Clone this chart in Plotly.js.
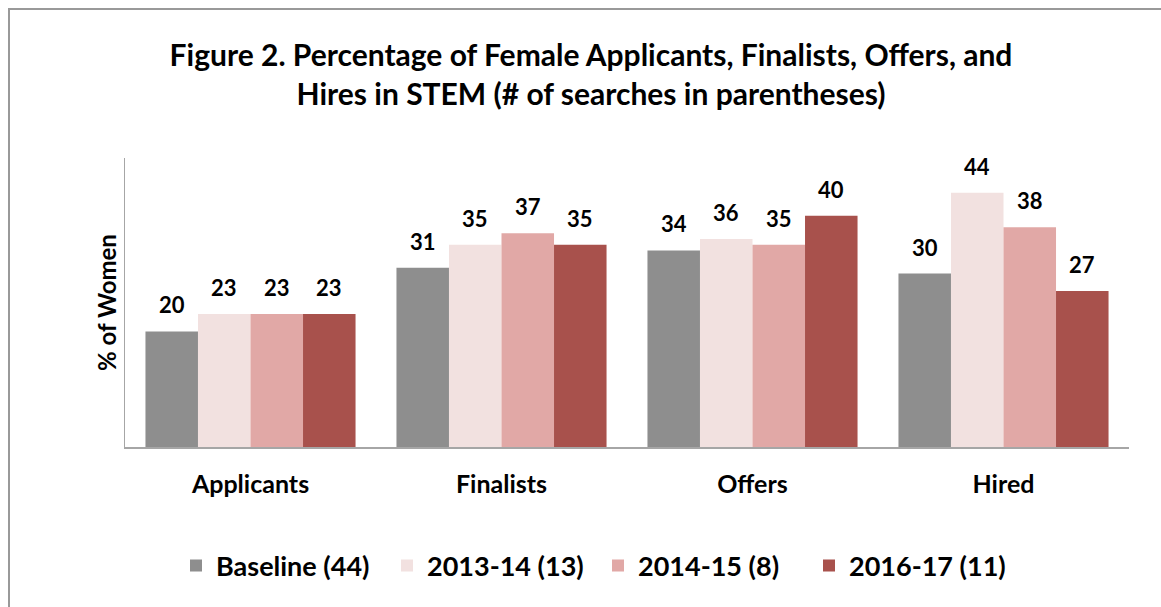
<!DOCTYPE html>
<html><head><meta charset="utf-8">
<script src="https://cdn.plot.ly/plotly-3.0.1.min.js"></script>
<style>html,body{margin:0;padding:0;background:#fff;}#chart{width:1161px;height:607px;}</style>
</head><body><div id="chart"></div>
<script>
const categories = ["Applicants", "Finalists", "Offers", "Hired"];
const seriesNames = ["Baseline (44)", "2013-14 (13)", "2014-15 (8)", "2016-17 (11)"];
const baseline = [20, 31, 34, 30];
const y2013 = [23, 35, 36, 44];
const y2014 = [23, 37, 35, 38];
const y2016 = [23, 35, 40, 27];
const colors = ["#8e8e8e", "#f2e1e0", "#e1a8a6", "#a8514c"];
const seriesValues = [baseline, y2013, y2014, y2016];

const W = 1161, H = 607;
const margin = {l: 125, r: 32, t: 158, b: 160};
const plotW = W - margin.l - margin.r;
const plotH = H - margin.t - margin.b;
const bargap = 0.163;
const FONT = "Lato, 'Open Sans', sans-serif";

const traces = seriesValues.map((vals, i) => ({
  type: "bar", name: seriesNames[i], x: categories, y: vals,
  marker: {color: colors[i], line: {width: 0}},
  hoverinfo: "x+y"
}));

const barPx = plotW / categories.length * (1 - bargap) / seriesValues.length;
const annotations = [];
seriesValues.forEach((vals, i) => {
  vals.forEach((v, j) => {
    annotations.push({
      x: categories[j], y: v, xref: "x", yref: "y",
      text: String(v), showarrow: false,
      xshift: (i - (seriesValues.length - 1) / 2) * barPx,
      yanchor: "bottom", yshift: 11,
      font: {family: FONT, size: 22, color: "#000", weight: "bold"}
    });
  });
});

const layout = {
  width: W, height: H, margin: margin,
  paper_bgcolor: "#fff", plot_bgcolor: "#fff",
  barmode: "group", bargap: bargap, bargroupgap: 0,
  showlegend: true,
  title: {
    text: "<b>Figure 2. Percentage of Female Applicants, Finalists, Offers, and<br>Hires in STEM (# of searches in parentheses)</b>",
    font: {family: FONT, size: 30, color: "#000"},
    x: 591 / W, xref: "container", xanchor: "center",
    y: 1 - 66 / H, yref: "container", yanchor: "top"
  },
  xaxis: {
    type: "category", showline: true, linecolor: "#a6a6a6", linewidth: 1.5,
    showgrid: false, zeroline: false, ticks: "", ticklabelstandoff: 14,
    tickfont: {family: FONT, size: 25, color: "#000", weight: "bold"}
  },
  yaxis: {
    range: [0, 50], showline: true, linecolor: "#a6a6a6", linewidth: 1,
    showgrid: false, zeroline: false, showticklabels: false, ticks: "",
    title: {text: "<b>% of Women</b>", standoff: 0,
      font: {family: FONT, size: 24, color: "#000"}}
  },
  legend: {
    orientation: "h", x: (598 - margin.l) / plotW, xanchor: "center",
    y: -(566 - (H - margin.b)) / plotH, yanchor: "middle",
    font: {family: FONT, size: 27, color: "#000", weight: "bold"},
    itemwidth: 30, traceorder: "normal",
    entrywidth: 166, entrywidthmode: "pixels"
  },
  annotations: annotations,
  shapes: [{
    type: "rect", xref: "paper", yref: "paper",
    x0: (9 - margin.l) / plotW, x1: (W + 20 - margin.l) / plotW,
    y0: -(H + 20 - (H - margin.b)) / plotH, y1: (H - margin.b - 9) / plotH,
    line: {color: "#999999", width: 2}, fillcolor: "rgba(0,0,0,0)", layer: "below"
  }]
};

Plotly.newPlot("chart", traces, layout, {displayModeBar: false, staticPlot: true});
</script></body></html>
